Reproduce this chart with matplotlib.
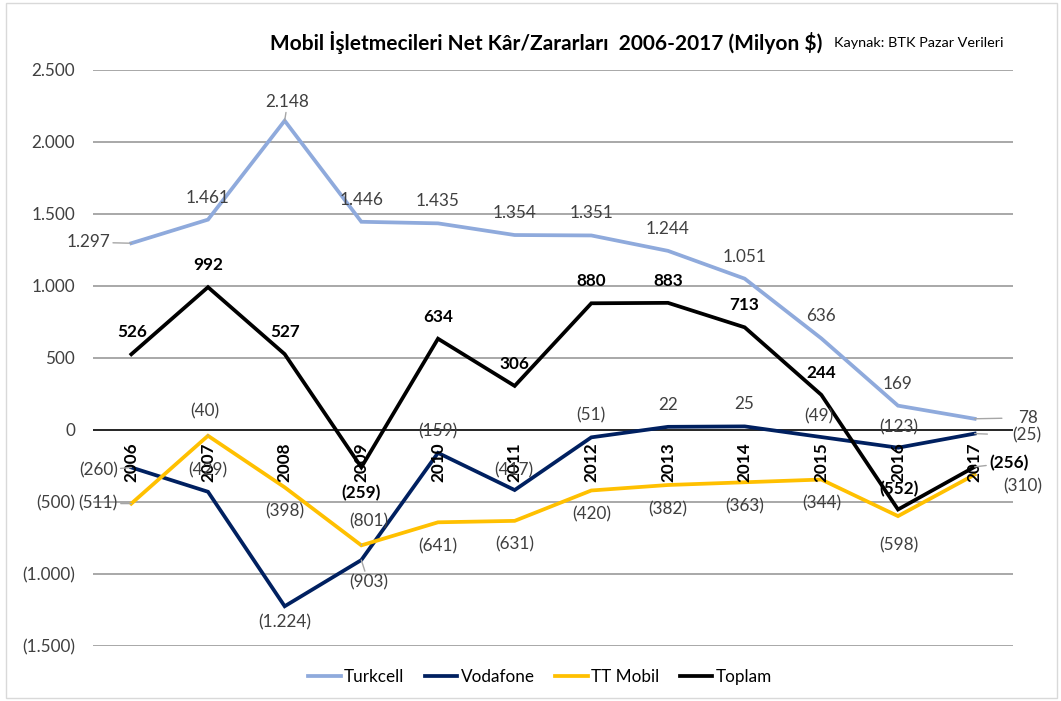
import matplotlib
matplotlib.use("Agg")
import matplotlib.pyplot as plt
from matplotlib.patches import Rectangle

plt.rcParams['font.family'] = ['Lato', 'DejaVu Sans']

years = ["2006", "2007", "2008", "2009", "2010", "2011", "2012", "2013", "2014", "2015", "2016", "2017"]
turkcell = [1297, 1461, 2148, 1446, 1435, 1354, 1351, 1244, 1051, 636, 169, 78]
vodafone = [-260, -429, -1224, -903, -159, -417, -51, 22, 25, -49, -123, -25]
ttmobil = [-511, -40, -398, -801, -641, -631, -420, -382, -363, -344, -598, -310]
toplam = [526, 992, 527, -259, 634, 306, 880, 883, 713, 244, -552, -256]

yticks = [-1500, -1000, -500, 0, 500, 1000, 1500, 2000, 2500]


def fmt(v):
    s = f"{abs(v):,}".replace(",", ".")
    return f"({s})" if v < 0 else s


fig = plt.figure(figsize=(10.61, 7.01), dpi=100)
fig.patches.append(Rectangle((0.006, 0.004), 0.99, 0.992, transform=fig.transFigure,
                             fill=False, edgecolor="#D9D9D9", lw=1))
ax = fig.add_axes([93 / 1061, 1 - 646 / 701, 920 / 1061, (646 - 70) / 701])

x = list(range(len(years)))
series = [
    ("Turkcell", turkcell, "#8FAADC", "normal"),
    ("Vodafone", vodafone, "#002060", "normal"),
    ("TT Mobil", ttmobil, "#FFC000", "normal"),
    ("Toplam", toplam, "#000000", "bold"),
]

FS = 12.3

ax.set_xlim(-0.5, len(years) - 0.5)
ax.set_ylim(-1500, 2500)
ax.set_yticks(yticks)
ax.set_yticklabels([fmt(v) for v in yticks], fontsize=FS, color="#404040")
ax.tick_params(axis="y", length=0, pad=13)
ax.set_xticks([])
for s in ax.spines.values():
    s.set_visible(False)
for v in yticks:
    if v != 0:
        ax.axhline(v, color="#999999", lw=1.2, zorder=0)
ax.axhline(0, color="#000000", lw=1.2, zorder=1)

for i, y in enumerate(years):
    ax.annotate(y, (i, 0), xytext=(0, -12), textcoords="offset pixels",
                rotation=90, ha="center", va="top", fontsize=FS,
                fontweight="bold", color="#000000", zorder=5)

for name, vals, col, w in series:
    ax.plot(x, vals, color=col, lw=2.7, label=name, zorder=3, solid_joinstyle="miter")

# label placements (pixel offsets from the point): (dx, dy, leader)
U = (0, 22, False)
D = (0, -24, False)
place = {
    "Turkcell": [(-43, 1, True), U, (3, 19, True), U, U, U, U, U, U, U, U, (53, 1, True)],
    "Vodafone": [(-33, -3, True), (0, 21, False), (0, -16, False), (7, -22, True), U, (-1, 20, False),
                 U, U, U, (-2, 21, False), (1, 20, False), (52, -2, True)],
    "TT Mobil": [(-33, 0, True), (-3, 24, True), D, (7, 24, True), D, D, D, D, D, D, (1, -29, False), (48, -12, True)],
    "Toplam": [(1, 22, False), U, U, (0, -26, False), U, U, U, U, U, U, (1, 20, False), (34, 4, True)],
}

for name, vals, col, w in series:
    for i, v in enumerate(vals):
        dx, dy, lead = place[name][i]
        txt = fmt(v)
        kw = {}
        if lead:
            shrink = 9 if abs(dx) < 20 else len(txt) * 3.2 + 3
            kw["arrowprops"] = dict(arrowstyle="-", color="#A6A6A6", lw=1,
                                    shrinkA=shrink, shrinkB=0)
        ax.annotate(txt, (i, v), xytext=(dx, dy), textcoords="offset pixels",
                    ha="center", va="center", fontsize=FS, fontweight=w,
                    color="#000000" if w == "bold" else "#404040", zorder=6, **kw)

fig.text(270 / 1061, 1 - 42 / 701, "Mobil İşletmecileri Net Kâr/Zararları  2006-2017 (Milyon $)",
         fontsize=15, fontweight="bold", ha="left", va="center", color="#000000")
fig.text(834 / 1061, 1 - 43 / 701, "Kaynak: BTK Pazar Verileri",
         fontsize=10.4, ha="left", va="center", color="#000000")

leg = fig.legend(loc="center", bbox_to_anchor=(540 / 1061, 1 - 677 / 701), ncol=4,
                 frameon=False, fontsize=FS, handlelength=1.9, columnspacing=1.2,
                 handletextpad=0.2)
for t in leg.get_texts():
    t.set_color("#000000")

fig.savefig("out.png", dpi=100)
